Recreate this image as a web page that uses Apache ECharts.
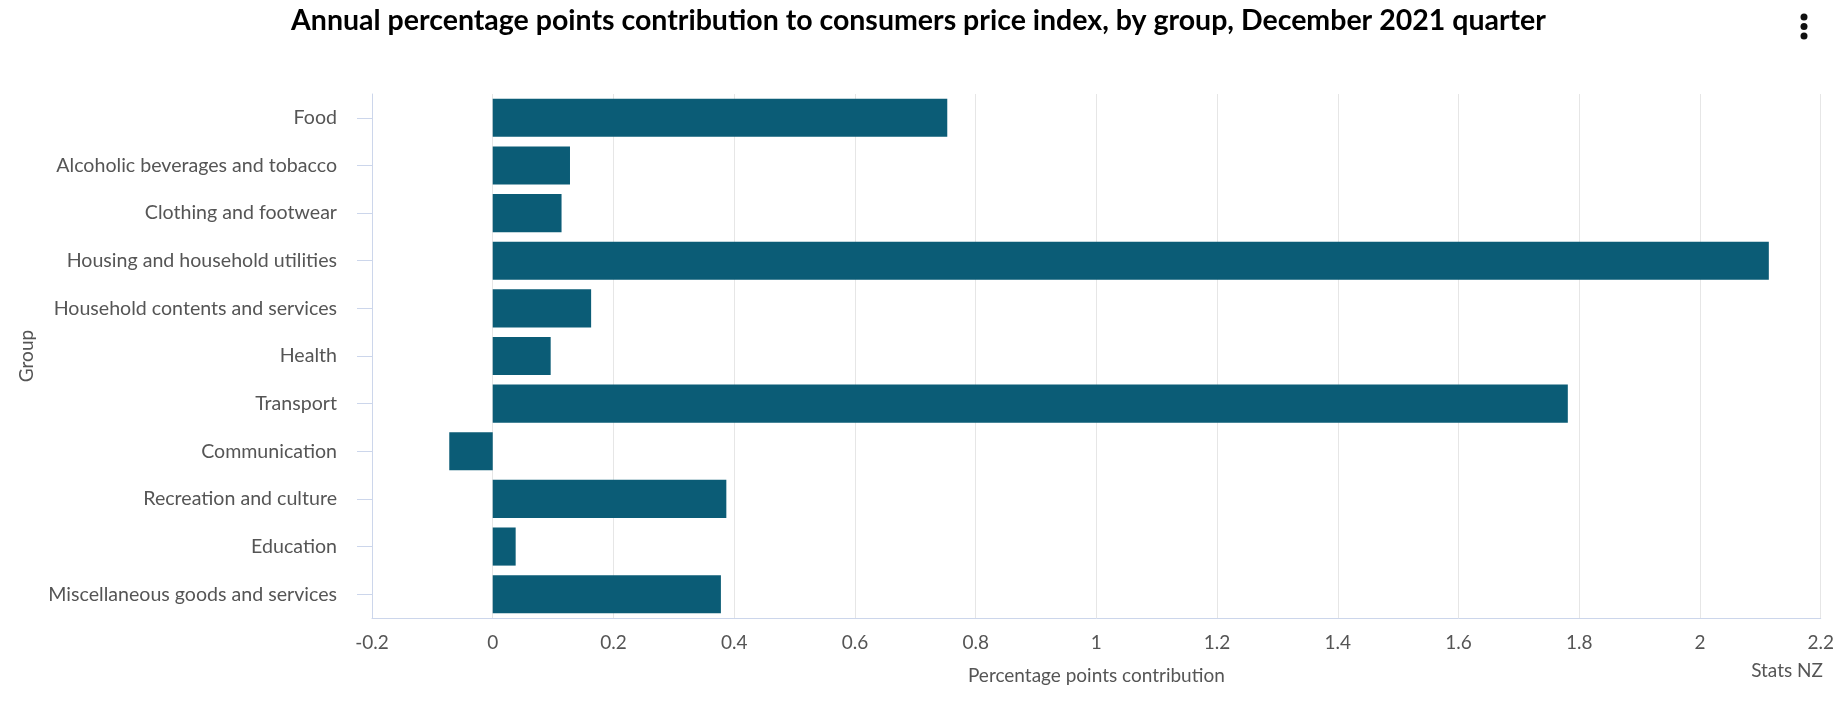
<!DOCTYPE html>
<html>
<head>
<meta charset="utf-8">
<script src="https://cdn.jsdelivr.net/npm/echarts@6/dist/echarts.min.js"></script>
<style>
  html, body { margin: 0; padding: 0; background: #ffffff; }
  #chart { width: 1837px; height: 716px; }
</style>
</head>
<body>
<div id="chart"></div>
<script>
const chartTitle = 'Annual percentage points contribution to consumers price index, by group, December 2021 quarter';
const categories = [
  'Food',
  'Alcoholic beverages and tobacco',
  'Clothing and footwear',
  'Housing and household utilities',
  'Household contents and services',
  'Health',
  'Transport',
  'Communication',
  'Recreation and culture',
  'Education',
  'Miscellaneous goods and services'
];
const contributions = [0.753, 0.128, 0.114, 2.114, 0.163, 0.096, 1.781, -0.072, 0.387, 0.038, 0.378];
const xAxisName = 'Percentage points contribution';
const yAxisName = 'Group';
const creditText = 'Stats NZ';

const FONT = 'Lato, "Open Sans", sans-serif';
const chart = echarts.init(document.getElementById('chart'));
chart.setOption({
  backgroundColor: '#ffffff',
  animation: false,
  title: {
    text: chartTitle,
    left: 'center',
    top: 1,
    textStyle: { fontFamily: FONT, fontWeight: 'bold', fontSize: 28.5, color: '#000000' }
  },
  grid: { left: 372, right: 14, top: 94, bottom: 98, containLabel: false },
  xAxis: {
    type: 'value',
    min: -0.2,
    max: 2.2,
    interval: 0.2,
    name: xAxisName,
    nameLocation: 'middle',
    nameGap: 48,
    nameTextStyle: { fontFamily: FONT, fontSize: 19, color: '#555555' },
    axisLine: { show: true, lineStyle: { color: '#ccd6eb', width: 1 } },
    axisTick: { show: false },
    axisLabel: { fontFamily: FONT, fontSize: 19, color: '#555555', margin: 15 },
    splitLine: { show: true, lineStyle: { color: '#e6e6e6', width: 1 } }
  },
  yAxis: {
    type: 'category',
    data: categories,
    inverse: true,
    name: yAxisName,
    nameLocation: 'middle',
    nameGap: 336,
    nameTextStyle: { fontFamily: FONT, fontSize: 19, color: '#555555' },
    axisLine: { show: true, onZero: false, lineStyle: { color: '#ccd6eb', width: 1 } },
    axisTick: { show: true, alignWithLabel: true, length: 15, lineStyle: { color: '#ccd6eb' } },
    axisLabel: { fontFamily: FONT, fontSize: 19.6, color: '#555555', margin: 35, padding: [0, 0, 3, 0] },
    splitLine: { show: false }
  },
  series: [{
    type: 'bar',
    data: contributions,
    barCategoryGap: '20%',
    itemStyle: { color: '#0b5c76' }
  }],
  graphic: [
    {
      type: 'text',
      right: 14,
      top: 661,
      style: { text: creditText, font: '19px ' + FONT, fill: '#555555' }
    },
    { type: 'circle', shape: { cx: 1804, cy: 17, r: 3.5 }, style: { fill: '#111111' } },
    { type: 'circle', shape: { cx: 1804, cy: 26.5, r: 3.5 }, style: { fill: '#111111' } },
    { type: 'circle', shape: { cx: 1804, cy: 36, r: 3.5 }, style: { fill: '#111111' } }
  ]
});
</script>
</body>
</html>
